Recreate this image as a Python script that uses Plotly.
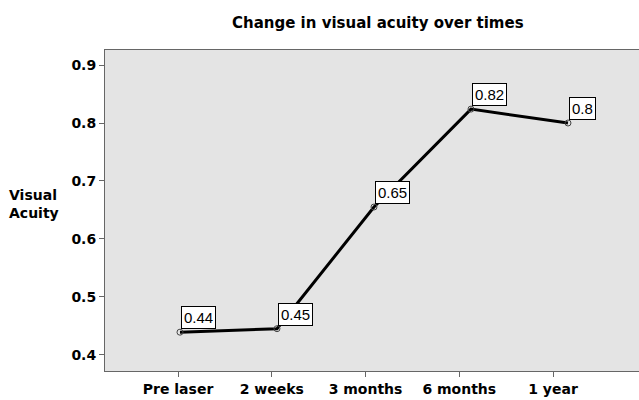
import plotly.graph_objects as go

categories = ["Pre laser", "2 weeks", "3 months", "6 months", "1 year"]
acuity = [0.439, 0.445, 0.655, 0.824, 0.80]
labels = ["0.44", "0.45", "0.65", "0.82", "0.8"]
yticks = [0.4, 0.5, 0.6, 0.7, 0.8, 0.9]

BOLD = "DejaVu Sans"
fig = go.Figure()
# carrier trace so the tick axis subplot exists (draws nothing)
fig.add_trace(go.Scatter(x=list(range(len(categories))), y=acuity, mode="none",
                         showlegend=False, hoverinfo="skip"))
fig.add_trace(go.Scatter(
    x=categories, y=acuity, mode="lines+markers", xaxis="x2",
    line=dict(color="black", width=3),
    marker=dict(symbol="circle-open", size=6, color="#444", line=dict(width=1)),
    showlegend=False, hoverinfo="skip"))

for c, v, t in zip(categories, acuity, labels):
    fig.add_annotation(x=c, y=v, xref="x2", yref="y", text=t, showarrow=False,
                       xanchor="left", yanchor="bottom", xshift=1, yshift=3,
                       bgcolor="white", bordercolor="black", borderwidth=1, borderpad=2,
                       font=dict(family="Liberation Sans, Arial", size=15, color="black"))

W = 639 - 105
fig.add_annotation(x=(378 - 105) / W, xref="paper", y=1, yref="paper", yanchor="middle", yshift=27,
                   text="<b>Change in visual acuity over times</b>", showarrow=False,
                   font=dict(family=BOLD, size=15, color="black"))
fig.add_annotation(xref="paper", yref="paper", x=(7 - 105) / W, y=0.52, text="<b>Visual<br>Acuity</b>",
                   showarrow=False, xanchor="left", align="left",
                   font=dict(family=BOLD, size=14, color="black"))

fig.update_layout(
    width=639, height=400,
    margin=dict(l=105, r=0, t=50, b=29, autoexpand=False),
    paper_bgcolor="white", plot_bgcolor="#e4e4e4",
    font=dict(family=BOLD, size=14, color="black"),
    xaxis=dict(range=[-0.779, 4.917], tickmode="array", tickvals=list(range(len(categories))),
               ticktext=["<b>%s</b>" % c for c in categories], ticks="outside", ticklen=5,
               tickcolor="#666", showgrid=False, zeroline=False, showline=True, linecolor="#666",
               mirror=True, linewidth=1),
    xaxis2=dict(type="category", overlaying="x", range=[-0.773, 4.732], visible=False),
    yaxis=dict(range=[0.372, 0.926], tickvals=yticks,
               ticktext=["<b>%.1f</b>" % v for v in yticks],
               ticks="outside", ticklen=5, tickcolor="#666", showgrid=False, zeroline=False,
               showline=True, linecolor="#666", linewidth=1),
)
fig.write_html("out.html", config={"displayModeBar": False, "staticPlot": True},
               post_script="document.body.style.margin='0';document.body.style.overflow='hidden';")
